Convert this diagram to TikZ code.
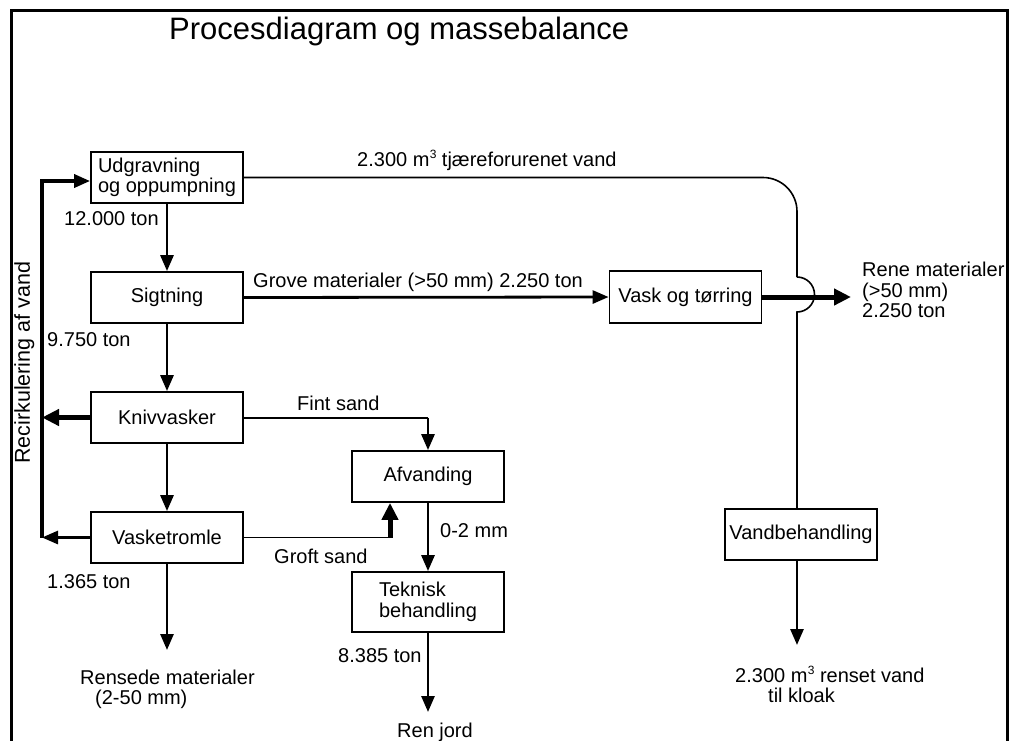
\documentclass[tikz,border=0pt]{standalone}
\usepackage{fontspec}
\setmainfont{Liberation Sans}
\usetikzlibrary{arrows.meta,calc}
\newcommand\bfnt{\fontsize{20}{20.5}\selectfont}
\newcommand\cubm{m\kern0.3pt\raisebox{8pt}{\fontsize{12}{12}\selectfont 3}}
\begin{document}
\begin{tikzpicture}[x=1pt,y=-1pt,
  box/.style={draw, line width=1.8pt, minimum width=152pt, minimum height=51pt, inner sep=0pt, font=\bfnt},
  flow/.style={line width=2.8pt, -{Triangle[length=16pt,width=13pt]}},
  thickflow/.style={line width=5pt, -{Triangle[length=17pt,width=16pt]}},
  thinline/.style={line width=1.6pt},
  lbl/.style={inner sep=0pt, anchor=base west, font=\bfnt}]
\useasboundingbox (0,0) rectangle (1013,740);
% frame
\draw[line width=3pt] (11,745) -- (11,10) -- (1007,10) -- (1007,745);
\node[lbl, font=\fontsize{31}{33}\selectfont] (title) at (169,39) {Procesdiagram og massebalance};
% boxes
\node[box,align=left] (udg) at (167,177.5) {Udgravning\\og oppumpning};
\node[box] (sig) at (167,297.5) {Sigtning};
\node[box] (kniv) at (167,417.5) {Knivvasker};
\node[box] (vtr) at (167,537.5) {Vasketromle};
\node[box] (afv) at (428,476.5) {Afvanding};
\node[box,minimum height=60pt,align=left] (tek) at (428,602) {Teknisk\\behandling};
\node[box,minimum height=52pt] (vot) at (685.5,297) {Vask og tørring};
\node[box] (vb) at (801,534.5) {Vandbehandling};
% main column
\draw[flow] (udg.south) -- (sig.north);
\draw[flow] (sig.south) -- (kniv.north);
\draw[flow] (kniv.south) -- (vtr.north);
\coordinate (rens) at (167,650);
\draw[flow] (vtr.south) -- (rens);
% coarse materials
\draw[flow] (sig.east) -- (vot.west);
\coordinate (rene) at (851,297);
% water line
\coordinate (wc) at (797,177.5);
\coordinate (hop) at (797,277);
\draw[thinline, rounded corners=34pt] (udg.east) -- (wc) -- (hop);
\draw[thinline] (hop) arc[start angle=90,end angle=-90,radius=17.5pt] -- (vb.north -| hop);
\draw[thickflow] (vot.east) -- (rene);
\coordinate (kloak) at (797,645);
\draw[flow] (vb.south -| hop) -- (kloak);
% recirculation
\coordinate (rt) at (42,181);
\draw[line width=3.5pt, -{Triangle[length=16pt,width=13pt]}] (rt |- vtr.west) -- (rt) -- (rt -| udg.west);
\draw[thickflow] (kniv.west) -- (kniv.west -| rt);
\draw[flow] (vtr.west) -- (vtr.west -| rt);
% sand
\draw[line width=2pt] (kniv.east) -- (kniv.east -| afv.north);
\draw[flow] (kniv.east -| afv.north) -- (afv.north);
\coordinate (gs) at (390,537.5);
\draw[thinline] (vtr.east) -- (gs);
\draw[thickflow] (gs) -- (gs |- afv.south);
\draw[flow] (afv.south) -- (tek.north);
\coordinate (jord) at (428,712);
\draw[flow] (tek.south) -- (jord);
% labels
\node[lbl] (l1) at (357,166) {2.300 \cubm\ tjæreforurenet vand};
\node[lbl] (l2) at (64,225) {12.000 ton};
\node[lbl] (l3) at (253,287) {Grove materialer (>50 mm) 2.250 ton};
\node[lbl] (l4) at (47,346) {9.750 ton};
\node[lbl, align=left, anchor=north west] (l5) at (862,262) {Rene materialer\\(>50 mm)\\2.250 ton};
\node[lbl] (l6) at (297,410) {Fint sand};
\node[lbl] (l7) at (274,563) {Groft sand};
\node[lbl] (l8) at (440,537) {0-2 mm};
\node[lbl] (l9) at (338,662) {8.385 ton};
\node[lbl] (l10) at (397,737) {Ren jord};
\node[lbl] (l11) at (47,588) {1.365 ton};
\node[lbl] (l12) at (80,684) {Rensede materialer};
\node[lbl] (l13) at (95,704) {(2-50 mm)};
\node[lbl] (l14) at (735,682) {2.300 \cubm\ renset vand};
\node[lbl] (l15) at (768,702) {til kloak};
\node[lbl, rotate=90, font=\fontsize{21.5}{22}\selectfont] (l16) at (30,464) {Recirkulering af vand};
\end{tikzpicture}
\end{document}
